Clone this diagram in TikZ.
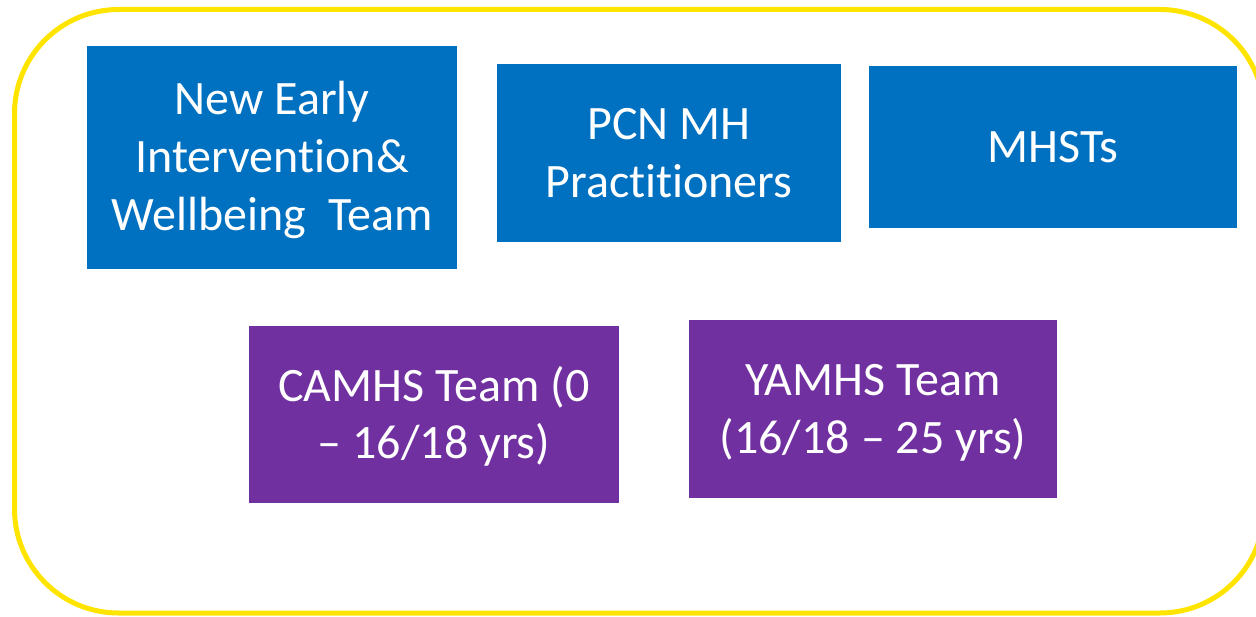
\documentclass[tikz,border=0pt]{standalone}
\usepackage{fontspec}
\setmainfont{Carlito}[Ligatures=CommonOff]
\definecolor{teamblue}{RGB}{0,112,192}
\definecolor{teampurple}{RGB}{112,48,160}
\definecolor{frameyellow}{RGB}{255,228,0}
\begin{document}
\begin{tikzpicture}[x=1pt,y=-1pt,
  teambox/.style={rectangle, inner sep=0pt, text=white, align=center,
    font=\fontsize{48}{58}\selectfont, text depth=0pt},
  oneline/.style={text height=31pt},
  twolines/.style={text height=89pt},
  threelines/.style={text height=147pt},
  bluebox/.style={teambox, fill=teamblue},
  purplebox/.style={teambox, fill=teampurple}]
  \useasboundingbox (0,0) rectangle (1256,617);
  \clip (0,0) rectangle (1256,617);
  % outer rounded frame
  \draw[frameyellow, line width=5pt, rounded corners=104pt]
    (14.5,9.5) rectangle (1264,613);
  % service boxes
  \node[bluebox, threelines, minimum width=370pt, minimum height=223pt]
    (eiw) at (272,157.5) {New Early\\Intervention\&\\Wellbeing\ \ Team};
  \node[bluebox, twolines, minimum width=344pt, minimum height=178pt]
    (pcn) at (669,153) {PCN MH\\Practitioners};
  \node[bluebox, oneline, minimum width=368pt, minimum height=162pt]
    (mhst) at (1053,147) {MHSTs};
  \node[purplebox, twolines, minimum width=370pt, minimum height=177pt]
    (camhs) at (434,414.5) {CAMHS Team (0\\– 16/18 yrs)};
  \node[purplebox, twolines, minimum width=368pt, minimum height=178pt]
    (yamhs) at (873,409) {YAMHS Team\\(16/18 – 25 yrs)};
\end{tikzpicture}
\end{document}
